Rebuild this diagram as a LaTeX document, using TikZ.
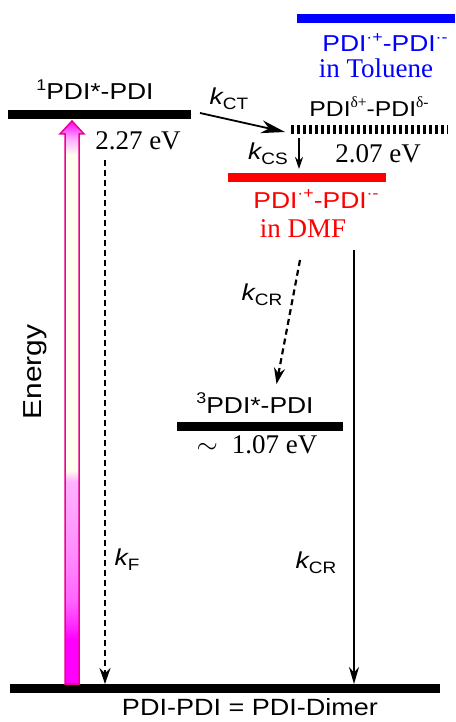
\documentclass[tikz,border=0pt]{standalone}
\usepackage{fontspec}
\setmainfont{Liberation Serif}
\newfontfamily\ssf[FakeStretch=1.15]{Liberation Sans}
\usetikzlibrary{arrows.meta}
\newcommand{\myup}[1]{\raisebox{0.42em}{\fontsize{15.5}{15.5}\selectfont #1}}
\newcommand{\mysub}[1]{\raisebox{-5pt}{\fontsize{16.5}{16.5}\selectfont #1}}
\newcommand{\kk}[1]{{\itshape k}\mysub{#1}}
\pgfdeclareverticalshading{energyshade}{100bp}{%
  color(0bp)=(magenta); color(29bp)=(magenta);
  color(30.5bp)=(magenta!80!white);
  color(32.5bp)=(magenta!60!white);
  color(36.5bp)=(magenta!45!white);
  color(43bp)=(magenta!30!white);
  color(44bp)=(yellow!6!white);
  color(72bp)=(yellow!6!white);
  color(73.5bp)=(magenta!35!white);
  color(75bp)=(magenta); color(100bp)=(magenta)}
\begin{document}
\begin{tikzpicture}[x=1pt,y=-1pt,
  level/.style={line width=9pt},
  sanslab/.style={font=\ssf\fontsize{23}{23}\selectfont, inner sep=0pt, anchor=base},
  serlab/.style={font=\fontsize{27}{27}\selectfont, inner sep=0pt, anchor=base},
  solidarrow/.style={line width=1.8pt, -{Stealth[length=17pt,width=10pt]}},
  dasharrow/.style={line width=2.2pt, dash pattern=on 6pt off 4pt, -{Stealth[length=16pt,width=11pt]}}]
\useasboundingbox (0,0) rectangle (455,722);
% levels
\coordinate (bl) at (297,18.5); \coordinate (br) at (455,18.5);
\coordinate (sl) at (8,115); \coordinate (sr) at (191,115);
\coordinate (ctl) at (291,129.5); \coordinate (ctr) at (448,129.5);
\coordinate (rl) at (228,177.5); \coordinate (rr) at (386,177.5);
\coordinate (tl) at (177,426); \coordinate (tr) at (343,426);
\coordinate (gl) at (10,688.5); \coordinate (gr) at (440,688.5);
\draw[level, blue] (bl) -- (br);
\draw[level] (sl) -- (sr);
\draw[line width=9pt, dash pattern=on 2.5pt off 3.5pt] (ctl) -- (ctr);
\draw[level, red] (rl) -- (rr);
\draw[level] (tl) -- (tr);
\draw[level] (gl) -- (gr);
% excitation arrow
\shade[shading=energyshade, draw=magenta, line width=1.5pt, line join=miter]
  (65,684) -- (65,134) -- (60,134) -- (72,121) -- (84,134) -- (79,134) -- (79,684) -- cycle;
% connectors
\coordinate (ct0) at (200,113); \coordinate (ct1) at (285,132);
\draw[line width=1.8pt, -{Stealth[length=24pt,width=13pt]}] (ct0) -- (ct1);
\coordinate (cs0) at (299,138); \coordinate (cs1) at (299,169);
\draw[line width=1.6pt, -{Stealth[length=12pt,width=8pt]}] (cs0) -- (cs1);
\coordinate (cr0) at (300,260); \coordinate (cr1) at (276.5,384);
\draw[dasharrow] (cr0) -- (cr1);
\coordinate (f0) at (105,160); \coordinate (f1) at (105,684);
\draw[dasharrow] (f0) -- (f1);
\coordinate (g0) at (354,250); \coordinate (g1) at (354,684);
\draw[solidarrow] (g0) -- (g1);
% texts
\node[sanslab, text=blue] (tb1) at (385,52) {PDI\myup{·+}-PDI\myup{·-}};
\node[serlab, text=blue] (tb2) at (376,78) {in Toluene};
\node[sanslab] (ts) at (95,100) {\myup{1}PDI*-PDI};
\node[serlab] (e1) at (138,150) {2.27 eV};
\node[sanslab] (kct) at (229,105) {\kk{CT}};
\node[sanslab, font=\ssf\fontsize{21.5}{21.5}\selectfont] (tct) at (369,117) {PDI\myup{\rmfamily δ+}-PDI\myup{\rmfamily δ-}};
\node[sanslab] (kcs) at (268,160) {\kk{CS}};
\node[serlab] (e2) at (378,163) {2.07 eV};
\node[sanslab, text=red] (tr1) at (316,208) {PDI\myup{·+}-PDI\myup{·-}};
\node[serlab, text=red] (tr2) at (303,237) {in DMF};
\node[sanslab] (kcr1) at (262,300) {\kk{CR}};
\node[sanslab] (tt) at (255,413) {\myup{3}PDI*-PDI};
\node[serlab] (e3) at (257,453) {\scalebox{1.1}{$\sim$}\hspace{14pt}1.07 eV};
\node[sanslab, font=\ssf\fontsize{26}{26}\selectfont, rotate=90] (en) at (41,372) {Energy};
\node[sanslab] (kf) at (127,565) {\kk{F}};
\node[sanslab] (kcr2) at (316,568) {\kk{CR}};
\node[sanslab, font=\ssf\fontsize{23.5}{23.5}\selectfont] (tg) at (250,715) {PDI-PDI = PDI-Dimer};
\end{tikzpicture}
\end{document}
